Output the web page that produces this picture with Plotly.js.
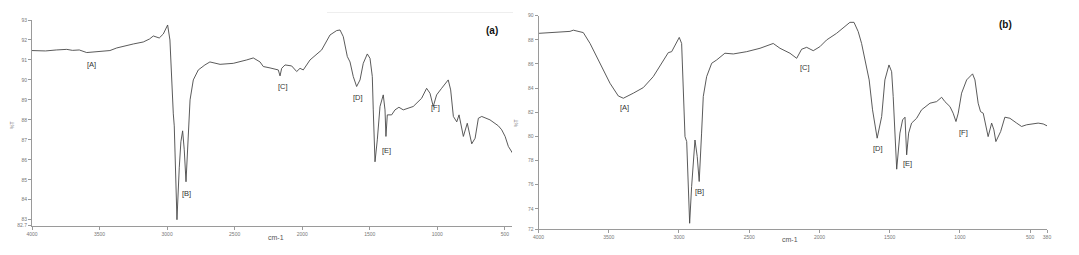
<!DOCTYPE html>
<html>
<head>
<meta charset="utf-8">
<script src="https://cdn.plot.ly/plotly-3.0.1.min.js"></script>
<style>html,body{margin:0;padding:0;background:#fff;}#chart{width:1079px;height:255px;}</style>
</head>
<body>
<div id="chart"></div>
<script>
// Panel (a) spectrum
const waveA = [4000,3900,3820,3743,3700,3650,3595,3540,3480,3423,3373,3310,3250,3176,3130,3102,3058,3028,2996,2979,2966,2954,2947,2937,2927,2910,2898,2885,2873,2860,2843,2830,2806,2769,2720,2683,2608,2510,2411,2362,2312,2288,2238,2177,2164,2152,2127,2078,2041,2016,1992,1942,1856,1794,1745,1720,1696,1666,1646,1622,1597,1572,1548,1518,1498,1481,1474,1461,1444,1424,1400,1387,1380,1370,1338,1313,1284,1252,1178,1116,1079,1054,1030,1005,968,919,901,881,856,839,807,778,745,720,696,671,610,548,523,498,474,449,440];
const transA = [91.47,91.45,91.5,91.53,91.48,91.5,91.37,91.4,91.42,91.47,91.6,91.72,91.8,91.9,92.05,92.2,92.1,92.3,92.75,92.0,89.8,88.3,87.7,85.7,83.0,85.6,86.9,87.45,86.5,84.9,87.3,89.0,90.0,90.5,90.75,90.9,90.78,90.83,91.0,91.1,90.9,90.67,90.6,90.5,90.2,90.58,90.75,90.7,90.42,90.58,90.5,91.0,91.5,92.25,92.47,92.5,92.17,91.17,90.9,90.17,89.67,90.0,90.83,91.3,91.08,90.17,88.5,85.9,87.0,88.67,89.25,88.5,87.17,88.25,88.25,88.5,88.63,88.5,88.67,89.08,89.58,89.33,88.67,89.25,89.58,90.0,89.5,88.17,87.9,88.25,87.17,87.83,86.8,87.08,88.08,88.17,88.0,87.7,87.5,87.17,86.67,86.4,86.3];

// Panel (b) spectrum
const waveB = [3996,3895,3776,3752,3681,3633,3562,3491,3432,3396,3325,3254,3183,3112,3076,3052,3021,2998,2981,2969,2957,2945,2936,2924,2910,2886,2870,2856,2839,2827,2803,2767,2732,2673,2613,2518,2423,2352,2329,2281,2210,2162,2127,2091,2044,1997,1949,1878,1819,1783,1754,1724,1700,1669,1646,1622,1589,1557,1534,1505,1486,1475,1462,1450,1427,1408,1391,1379,1365,1344,1308,1273,1213,1166,1130,1107,1071,1048,1028,1012,988,952,910,893,870,853,834,799,774,758,744,727,710,680,644,596,561,525,478,443,407,379];
const transB = [88.54,88.62,88.7,88.8,88.6,87.7,86.06,84.4,83.35,83.16,83.58,84.04,84.95,86.33,86.94,87.02,87.7,88.2,87.7,83.0,79.98,79.57,75.84,72.8,75.84,79.7,78.33,76.26,80.27,83.3,84.95,86.06,86.33,86.89,86.83,87.02,87.3,87.63,87.7,87.3,86.89,86.47,87.22,87.38,87.1,87.43,87.99,88.54,89.09,89.45,89.45,88.68,87.7,85.78,84.68,82.2,79.85,81.64,84.68,85.92,85.36,83.3,79.7,77.28,80.27,81.37,81.59,78.47,80.27,81.1,81.5,82.2,82.75,82.88,83.24,82.88,82.47,81.92,81.23,81.92,83.58,84.68,85.18,84.68,82.75,82.05,81.92,79.98,81.1,80.54,79.57,79.98,80.4,81.59,81.5,81.1,80.82,80.96,81.03,81.1,81.03,80.87];

const xTicksA = [4000,3500,3000,2500,2000,1500,1000,500];
const xTicksB = [4000,3500,3000,2500,2000,1500,1000,500,380];
const yTicksA = [82.7,83,84,85,86,87,88,89,90,91,92,93];
const yTickTextA = ['82.7','83','84','85','86','87','88','89','90','91','92','93'];
const yTicksB = [72.3,74,76,78,80,82,84,86,88,90];
const yTickTextB = ['72','74','76','78','80','82','84','86','88','90'];

const peakLabels = ['[A]','[B]','[C]','[D]','[E]','[F]'];
const peakPosA = [[91,64],[186,193],[283,86],[358,97],[386,150],[435,107]];
const peakPosB = [[624,107],[699,191],[805,68],[878,148],[907,163],[963,132]];

const W = 1079, H = 255;
const px = x => x / W;
const py = y => 1 - y / H;

const lineStyle = {color:'#474747', width:0.9};
const traces = [
  {x: waveA, y: transA, type:'scatter', mode:'lines', line: lineStyle, xaxis:'x', yaxis:'y', hoverinfo:'skip'},
  {x: waveB, y: transB, type:'scatter', mode:'lines', line: lineStyle, xaxis:'x2', yaxis:'y2', hoverinfo:'skip'}
];

const axBase = {showgrid:false, zeroline:false, showline:true, linecolor:'#9a9a9a', linewidth:1,
  ticks:'outside', ticklen:3, tickcolor:'#9a9a9a', tickfont:{size:5, color:'#777', family:'Liberation Sans, Arial'}, fixedrange:true};

const annotations = [];
peakLabels.forEach((t,i)=>{
  annotations.push({xref:'paper', yref:'paper', x:px(peakPosA[i][0]), y:py(peakPosA[i][1]), text:t, showarrow:false,
    font:{size:7.5, color:'#333', family:'Liberation Sans, Arial'}, xanchor:'center', yanchor:'middle'});
  annotations.push({xref:'paper', yref:'paper', x:px(peakPosB[i][0]), y:py(peakPosB[i][1]), text:t, showarrow:false,
    font:{size:7.5, color:'#333', family:'Liberation Sans, Arial'}, xanchor:'center', yanchor:'middle'});
});
annotations.push({xref:'paper', yref:'paper', x:px(492), y:py(30), text:'<b>(a)</b>', showarrow:false,
  font:{size:10, color:'#111', family:'Liberation Sans, Arial'}, xanchor:'center', yanchor:'middle'});
annotations.push({xref:'paper', yref:'paper', x:px(1005), y:py(24), text:'<b>(b)</b>', showarrow:false,
  font:{size:10, color:'#111', family:'Liberation Sans, Arial'}, xanchor:'center', yanchor:'middle'});
annotations.push({xref:'paper', yref:'paper', x:px(12), y:py(125), text:'%T', textangle:-90, showarrow:false,
  font:{size:5, color:'#777', family:'Liberation Sans, Arial'}, xanchor:'center', yanchor:'middle'});
annotations.push({xref:'paper', yref:'paper', x:px(516), y:py(123), text:'%T', textangle:-90, showarrow:false,
  font:{size:5, color:'#777', family:'Liberation Sans, Arial'}, xanchor:'center', yanchor:'middle'});
annotations.push({xref:'paper', yref:'paper', x:px(276), y:py(237), text:'cm-1', showarrow:false,
  font:{size:7, color:'#555', family:'Liberation Sans, Arial'}, xanchor:'center', yanchor:'middle'});
annotations.push({xref:'paper', yref:'paper', x:px(790), y:py(239), text:'cm-1', showarrow:false,
  font:{size:7, color:'#555', family:'Liberation Sans, Arial'}, xanchor:'center', yanchor:'middle'});

const layout = {
  width: W, height: H, margin:{l:0,r:0,t:0,b:0}, paper_bgcolor:'#fff', plot_bgcolor:'#fff', showlegend:false,
  xaxis: Object.assign({}, axBase, {domain:[px(32), px(512)], range:[4000,447], tickvals:xTicksA, anchor:'y'}),
  yaxis: Object.assign({}, axBase, {domain:[py(225.7), py(20)], range:[82.7,93], tickvals:yTicksA, ticktext:yTickTextA, anchor:'x'}),
  xaxis2: Object.assign({}, axBase, {domain:[px(538.5), px(1047)], range:[4000,380], tickvals:xTicksB, anchor:'y2'}),
  yaxis2: Object.assign({}, axBase, {domain:[py(229.3), py(15.7)], range:[72.3,90], tickvals:yTicksB, ticktext:yTickTextB, anchor:'x2'}),
  annotations: annotations,
  shapes: [{type:'line', xref:'paper', yref:'paper', x0:px(327), x1:px(513), y0:py(12.5), y1:py(12.5), line:{color:'#eeeeee', width:1}}]
};

Plotly.newPlot('chart', traces, layout, {staticPlot:true, displayModeBar:false});
</script>
</body>
</html>
